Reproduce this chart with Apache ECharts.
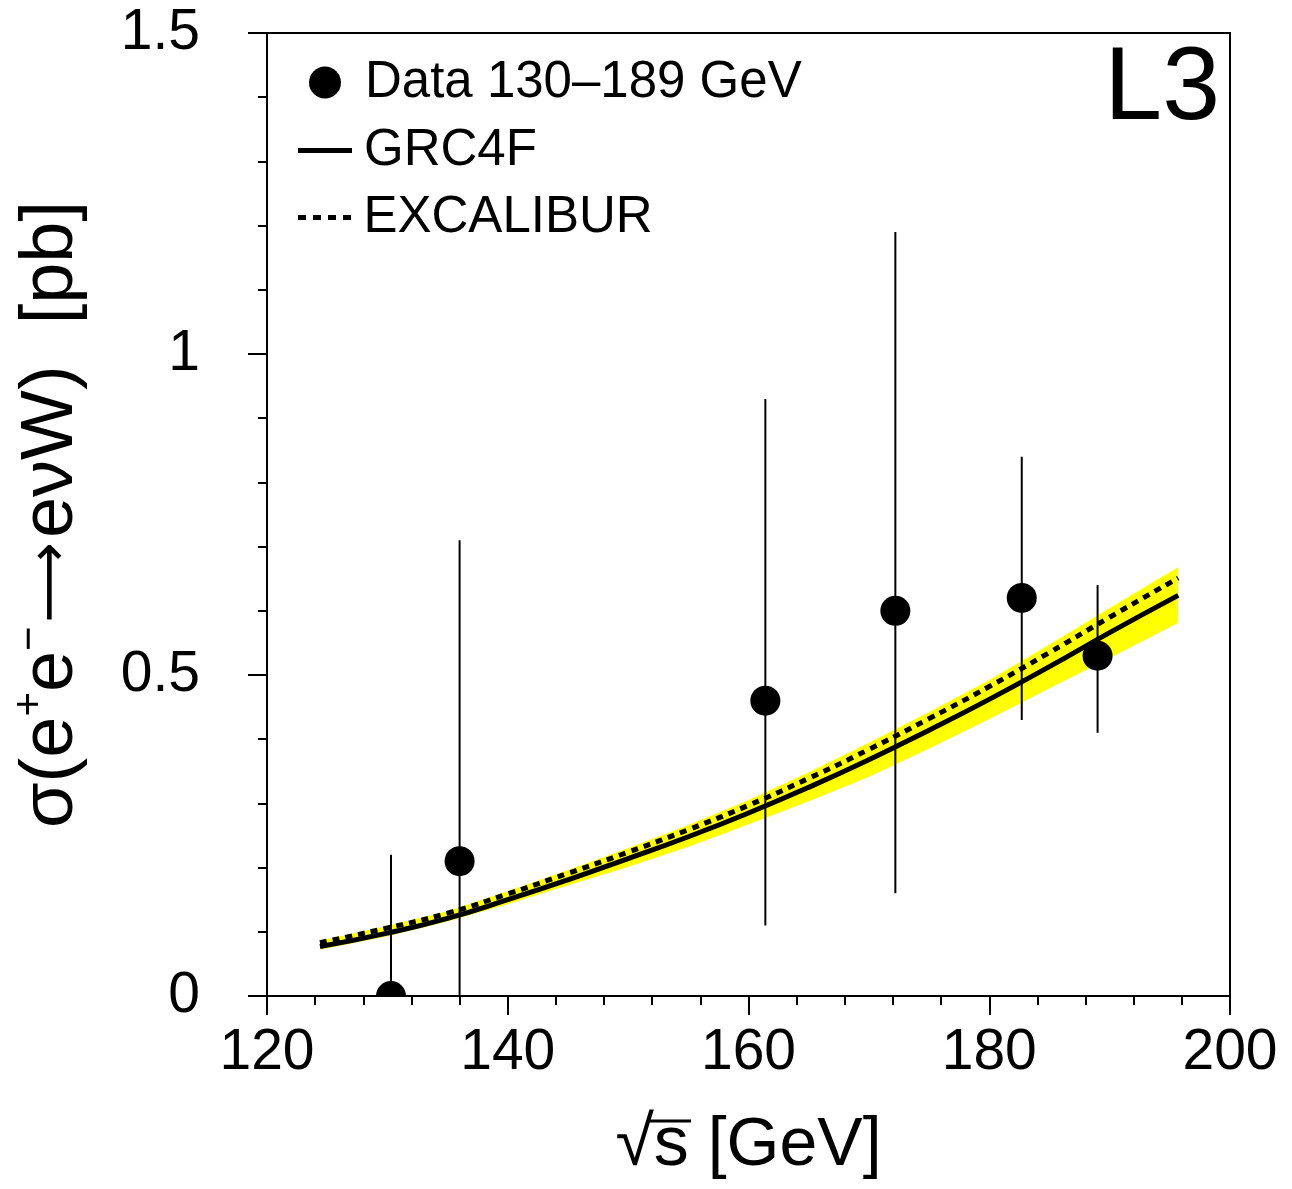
<!DOCTYPE html>
<html><head><meta charset="utf-8">
<script src="https://cdn.jsdelivr.net/npm/echarts@6/dist/echarts.min.js"></script>
<style>html,body{margin:0;padding:0;background:#fff}#c{width:1292px;height:1189px}</style>
</head><body><div id="c"></div>
<script>
// Data points (L3, e+e- -> e nu W)
const dataEnergy = [130.3, 136.0, 161.4, 172.2, 182.7, 189.0];
const dataXsec   = [0.00, 0.21, 0.46, 0.60, 0.62, 0.53];
const dataErrLo  = [0.00, 0.00, 0.11, 0.16, 0.43, 0.41];
const dataErrHi  = [0.22, 0.71, 0.93, 1.19, 0.84, 0.64];

// Theory curves
const curveEnergy = [124.4, 130, 135, 140, 145, 150, 155, 160, 165, 170, 175, 180, 185, 190, 195.7];
const grc4f       = [0.077, 0.098, 0.121, 0.150, 0.181, 0.214, 0.248, 0.285, 0.325, 0.368, 0.414, 0.462, 0.513, 0.566, 0.624];
const excalibur   = [0.083, 0.106, 0.129, 0.159, 0.191, 0.224, 0.259, 0.297, 0.339, 0.384, 0.432, 0.482, 0.535, 0.590, 0.651];
const bandLow     = [0.072, 0.093, 0.116, 0.143, 0.172, 0.201, 0.232, 0.267, 0.303, 0.341, 0.385, 0.431, 0.479, 0.526, 0.581];
const bandHigh    = [0.086, 0.109, 0.132, 0.163, 0.196, 0.230, 0.266, 0.305, 0.348, 0.394, 0.442, 0.492, 0.547, 0.604, 0.668];

const xTicks = [120, 140, 160, 180, 200];
const yTicks = [0, 0.5, 1, 1.5];

const FONT = '"Liberation Sans", Arial, Helvetica, sans-serif';
const chart = echarts.init(document.getElementById('c'), null, {renderer: 'canvas'});

const pts = dataEnergy.map((e, i) => [e, dataXsec[i], dataErrLo[i], dataErrHi[i]]);

const option = {
  backgroundColor: '#fff',
  animation: false,
  grid: {left: 267, right: 62, top: 33, bottom: 193, containLabel: false, outerBoundsMode: 'none',
    show: true, borderColor: '#000', borderWidth: 2, backgroundColor: 'transparent'},
  xAxis: {
    type: 'value', min: xTicks[0], max: xTicks[xTicks.length - 1], interval: 20,
    axisLine: {lineStyle: {color: '#000', width: 2}},
    axisTick: {inside: false, length: 19, lineStyle: {color: '#000', width: 2}},
    minorTick: {show: true, splitNumber: 5, length: 9, lineStyle: {color: '#000', width: 2}},
    splitLine: {show: false},
    axisLabel: {color: '#000', fontSize: 57, fontFamily: FONT, margin: 29},
    name: '{r|√}{s|s} [GeV]', nameLocation: 'middle', nameGap: 110,
    nameTextStyle: {color: '#000', fontSize: 68, fontFamily: FONT, lineHeight: 80,
      rich: {r: {fontSize: 70, fontFamily: FONT, color: '#000', lineHeight: 80},
             s: {fontSize: 70, fontFamily: FONT, color: '#000', lineHeight: 80}}}
  },
  yAxis: {
    type: 'value', min: yTicks[0], max: yTicks[yTicks.length - 1], interval: 0.5,
    axisLine: {lineStyle: {color: '#000', width: 2}},
    axisTick: {inside: false, length: 19, lineStyle: {color: '#000', width: 2}},
    minorTick: {show: true, splitNumber: 5, length: 9, lineStyle: {color: '#000', width: 2}},
    splitLine: {show: false},
    axisLabel: {color: '#000', fontSize: 57, fontFamily: FONT, margin: 67, formatter: v => String(v)},
    name: 'σ(e{sup|+}e{sup|−}{arr|⟶}eνW)  [pb]', nameLocation: 'middle', nameGap: 172, nameRotate: 90,
    nameTextStyle: {color: '#000', fontSize: 74, fontFamily: FONT, lineHeight: 86,
      rich: {sup: {fontSize: 42, fontFamily: FONT, color: '#000', verticalAlign: 'top', lineHeight: 42},
             arr: {fontSize: 56, fontFamily: '"DejaVu Sans", sans-serif', color: '#000', lineHeight: 86, padding: [0, 4, 0, 4]}}}
  },
  legend: [
    {data: [{name: 'Data 130–189 GeV', icon: 'circle'}], left: 309, top: 57, itemWidth: 32, itemHeight: 32, padding: 0,
      textStyle: {color: '#000', fontSize: 51, fontFamily: FONT, padding: [0, 0, 0, 19]}, selectedMode: false},
    {data: [{name: 'GRC4F', icon: 'path://M0,0H54V5H0Z'}], left: 298, top: 125, itemWidth: 54, itemHeight: 5, padding: 0,
      textStyle: {color: '#000', fontSize: 51, fontFamily: FONT, padding: [0, 0, 0, 7]}, selectedMode: false},
    {data: [{name: 'EXCALIBUR', icon: 'path://M0,0H8V5H0Z M15,0H23V5H15Z M30,0H38V5H30Z M45,0H53V5H45Z'}], left: 298, top: 192, itemWidth: 54, itemHeight: 5, padding: 0,
      textStyle: {color: '#000', fontSize: 51, fontFamily: FONT, padding: [0, 0, 0, 7]}, selectedMode: false}
  ],
  graphic: [
    {type: 'text', right: 72, top: 38, z: 10,
      style: {text: 'L3', font: '104px ' + FONT, fill: '#000'}},
    {type: 'line', z: 10, shape: {x1: 648, y1: 1121, x2: 691, y2: 1121},
      style: {stroke: '#000', lineWidth: 3}}
  ],
  series: [
    {name: 'band', type: 'custom', clip: true, z: 1, silent: true,
      data: [[curveEnergy[0], bandLow[0]]],
      encode: {x: 0, y: 1},
      renderItem: function (params, api) {
        const upper = curveEnergy.map((e, i) => api.coord([e, bandHigh[i]]));
        const lower = curveEnergy.map((e, i) => api.coord([e, bandLow[i]])).reverse();
        return {type: 'polygon', shape: {points: upper.concat(lower), smooth: 0},
          style: {fill: '#ffff00', stroke: null}};
      }
    },
    {name: 'GRC4F', type: 'line', smooth: true, symbol: 'none', z: 3,
      lineStyle: {color: '#000', width: 5}, itemStyle: {color: '#000'},
      data: curveEnergy.map((e, i) => [e, grc4f[i]])},
    {name: 'EXCALIBUR', type: 'line', smooth: true, symbol: 'none', z: 3,
      lineStyle: {color: '#000', width: 5, type: [7, 6]}, itemStyle: {color: '#000'},
      data: curveEnergy.map((e, i) => [e, excalibur[i]])},
    {name: 'Data 130–189 GeV', type: 'custom', clip: true, z: 5,
      itemStyle: {color: '#000'},
      encode: {x: 0, y: 1},
      data: pts,
      renderItem: function (params, api) {
        const x = api.value(0), y = api.value(1), lo = api.value(2), hi = api.value(3);
        const c = api.coord([x, y]);
        const pl = api.coord([x, lo]);
        const ph = api.coord([x, hi]);
        return {type: 'group', children: [
          {type: 'line', shape: {x1: pl[0], y1: pl[1], x2: ph[0], y2: ph[1]}, style: {stroke: '#000', lineWidth: 2}},
          {type: 'circle', shape: {cx: c[0], cy: c[1], r: 15}, style: {fill: '#000'}}
        ]};
      }
    }
  ]
};
chart.setOption(option);
</script></body></html>
